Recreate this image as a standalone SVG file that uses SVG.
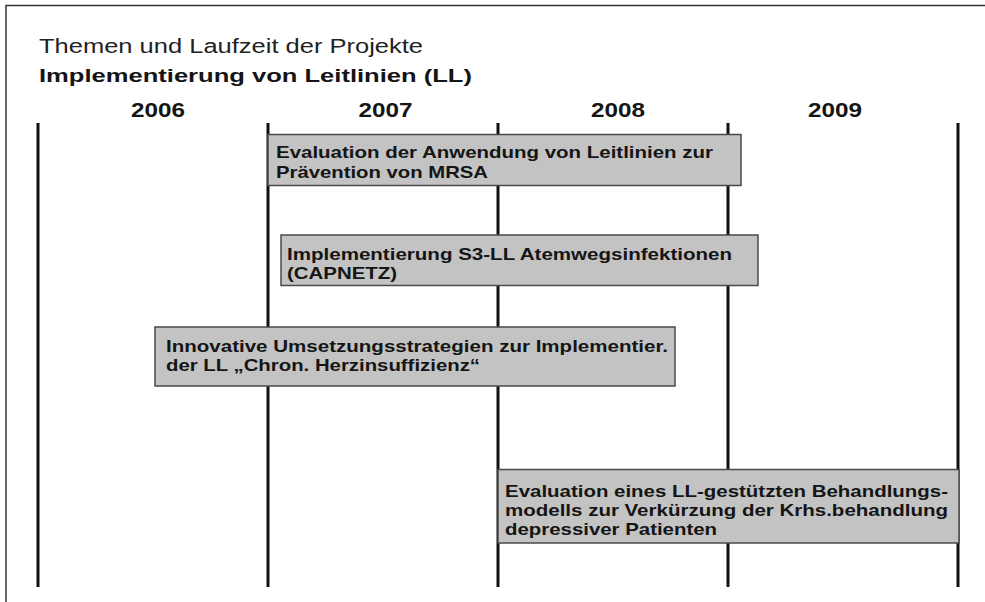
<svg xmlns="http://www.w3.org/2000/svg" width="985" height="602" viewBox="0 0 985 602">
<style>
text{font-family:"Liberation Sans",Arial,sans-serif;fill:#151515}
.reg{font-size:20px;font-weight:normal;fill:#222}
.hd{font-size:18px;font-weight:bold}
.yr{font-size:19.5px;font-weight:bold;text-anchor:middle}
.bx{fill:#c3c3c3;stroke:#4a4a4a;stroke-width:1.5}
.lb{font-size:17px;font-weight:bold}
.tl{stroke:#111;stroke-width:3;fill:none}
</style>
<rect width="985" height="602" fill="#fff"/>
<path d="M6,602 V5.5 H985" fill="none" stroke="#333" stroke-width="1.5"/>
<g id="header">
<text class="reg" x="39" y="53" textLength="384" lengthAdjust="spacingAndGlyphs">Themen und Laufzeit der Projekte</text>
<text class="hd" x="39" y="82" textLength="433" lengthAdjust="spacingAndGlyphs">Implementierung von Leitlinien (LL)</text>
<text class="yr" x="158" y="117" textLength="54" lengthAdjust="spacingAndGlyphs">2006</text>
<text class="yr" x="385.5" y="117" textLength="54" lengthAdjust="spacingAndGlyphs">2007</text>
<text class="yr" x="618" y="117" textLength="54" lengthAdjust="spacingAndGlyphs">2008</text>
<text class="yr" x="835" y="117" textLength="54" lengthAdjust="spacingAndGlyphs">2009</text>
</g>
<g id="connectors">
<line class="tl" x1="38" y1="123" x2="38" y2="587"/>
<line class="tl" x1="268" y1="123" x2="268" y2="587"/>
<line class="tl" x1="498" y1="123" x2="498" y2="587"/>
<line class="tl" x1="728" y1="123" x2="728" y2="587"/>
<line class="tl" x1="958" y1="123" x2="958" y2="587"/>
</g>
<g id="p1">
<rect class="bx" x="268" y="134.5" width="473" height="51"/>
<text class="lb" x="276" y="158" textLength="437" lengthAdjust="spacingAndGlyphs">Evaluation der Anwendung von Leitlinien zur</text>
<text class="lb" x="276" y="178" textLength="212" lengthAdjust="spacingAndGlyphs">Prävention von MRSA</text>
</g>
<g id="p2">
<rect class="bx" x="281" y="235" width="477" height="50.5"/>
<text class="lb" x="287" y="259.5" textLength="445" lengthAdjust="spacingAndGlyphs">Implementierung S3-LL Atemwegsinfektionen</text>
<text class="lb" x="287" y="278.5" textLength="110" lengthAdjust="spacingAndGlyphs">(CAPNETZ)</text>
</g>
<g id="p3">
<rect class="bx" x="155" y="327" width="520" height="59"/>
<text class="lb" x="166" y="351.5" textLength="502" lengthAdjust="spacingAndGlyphs">Innovative Umsetzungsstrategien zur Implementier.</text>
<text class="lb" x="166" y="371" textLength="314" lengthAdjust="spacingAndGlyphs">der LL „Chron. Herzinsuffizienz“</text>
</g>
<g id="p4">
<rect class="bx" x="498" y="469.5" width="461" height="73.5"/>
<text class="lb" x="505" y="497" textLength="443" lengthAdjust="spacingAndGlyphs">Evaluation eines LL-gestützten Behandlungs-</text>
<text class="lb" x="505" y="516" textLength="443" lengthAdjust="spacingAndGlyphs">modells zur Verkürzung der Krhs.behandlung</text>
<text class="lb" x="505" y="535" textLength="212" lengthAdjust="spacingAndGlyphs">depressiver Patienten</text>
</g>
</svg>
